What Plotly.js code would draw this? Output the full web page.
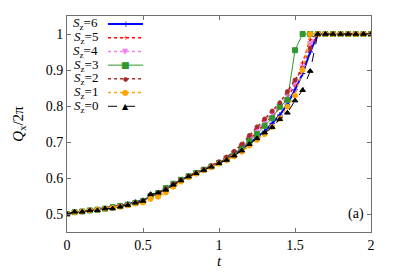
<!DOCTYPE html>
<html><head><meta charset="utf-8">
<script src="https://cdn.plot.ly/plotly-3.0.1.min.js"></script>
<style>html,body{margin:0;padding:0;background:#fff}#chart{width:395px;height:276px}</style>
</head><body><div id="chart"></div>
<script>
// time grid t = 0 ... 2 (step 0.05)
const t = [0,0.05,0.1,0.15,0.2,0.25,0.3,0.35,0.4,0.45,0.5,0.55,0.6,0.65,0.7,0.75,0.8,0.85,0.9,0.95,
           1,1.05,1.1,1.15,1.2,1.25,1.3,1.35,1.4,1.45,1.5,1.55,1.6,1.65,1.7,1.75,1.8,1.85,1.9,1.95,2];

const sz6 = [.5,.505,.507,.51,.512,.515,.518,.523,.528,.533,.538,.548,.558,.57,.583,.595,.605,.614,.623,.632,
             .642,.652,.664,.679,.696,.713,.73,.752,.775,.805,.845,.89,.95,1,1,1,1,1,1,1,1];
const sz5 = [.5,.505,.507,.51,.512,.515,.518,.522,.527,.532,.537,.547,.557,.569,.582,.594,.604,.613,.622,.632,
             .643,.655,.669,.687,.707,.728,.75,.772,.795,.822,.86,.92,.985,1,1,1,1,1,1,1,1];
const sz4 = [.5,.505,.507,.51,.512,.515,.518,.522,.527,.532,.537,.547,.557,.569,.582,.594,.605,.614,.623,.633,
             .644,.657,.672,.69,.712,.735,.757,.78,.802,.83,.865,.91,.975,1,1,1,1,1,1,1,1];
const sz3 = [.5,.505,.507,.51,.512,.515,.519,.522,.526,.531,.536,.55,.558,.572,.584,.595,.605,.614,.623,.632,
             .642,.654,.668,.685,.703,.722,.745,.766,.798,.817,.955,1,1,1,1,1,1,1,1,1,1];
const sz2 = [.5,.505,.507,.51,.512,.515,.518,.522,.526,.531,.536,.548,.557,.57,.583,.595,.605,.614,.624,.634,
             .645,.658,.674,.694,.718,.742,.764,.786,.809,.84,.872,.905,.96,1,1,1,1,1,1,1,1];
const sz1 = [.5,.505,.507,.51,.512,.515,.517,.52,.524,.529,.532,.542,.548,.56,.576,.59,.602,.612,.621,.63,
             .64,.649,.66,.673,.69,.706,.722,.742,.765,.798,.829,.9,1,1,1,1,1,1,1,1,1];
const sz0 = [.5,.506,.506,.51,.51,.515,.515,.52,.525,.531,.536,.555,.559,.567,.581,.593,.604,.613,.622,.631,
             .641,.65,.662,.676,.694,.71,.726,.741,.763,.781,.815,.844,.897,1,1,1,1,1,1,1,1];

const names = ['<i>S</i><sub>z</sub>=6','<i>S</i><sub>z</sub>=5','<i>S</i><sub>z</sub>=4','<i>S</i><sub>z</sub>=3',
               '<i>S</i><sub>z</sub>=2','<i>S</i><sub>z</sub>=1','<i>S</i><sub>z</sub>=0'];
const xTicks = [0,0.5,1,1.5,2];
const xTickText = ['0','0.5','1','1.5','2'];
const yTicks = [0.5,0.6,0.7,0.8,0.9,1];
const yTickText = ['0.5','0.6','0.7','0.8','0.9','1'];

const series = [sz6,sz5,sz4,sz3,sz2,sz1,sz0];
const styles = [
  {color:'#0000ff', dash:'solid', width:2, symbol:'cross-thin', size:4, glyph:'+', gsize:9},
  {color:'#ff0000', dash:'dot', width:1.5, symbol:'cross-thin', size:3, glyph:'+', gsize:7},
  {color:'#ee82ee', dash:'dot', width:1.5, symbol:'triangle-down', size:5, glyph:'▼', gsize:8},
  {color:'#2e9a2e', dash:'solid', width:1, symbol:'square', size:5, glyph:'■', gsize:9},
  {color:'#a52a2a', dash:'dot', width:1.5, symbol:'circle', size:4, glyph:'●', gsize:6},
  {color:'#ffa500', dash:'dot', width:1.5, symbol:'circle', size:5, glyph:'●', gsize:8},
  {color:'#000000', dash:'dash', width:1, symbol:'triangle-up', size:5, glyph:'▲', gsize:8}
];

const traces = series.map((y,i)=>({
  x: t, y: y, name: names[i], type:'scatter', mode:'lines+markers', showlegend:false,
  line:{color:styles[i].color, dash:styles[i].dash, width:styles[i].width},
  marker:{color:styles[i].color, symbol:styles[i].symbol, size:styles[i].size,
          line:{color:styles[i].color, width:1}}
}));

const serif = '"Liberation Serif", "Times New Roman", serif';

// custom gnuplot-style key: text on the left, line sample on the right
const keyTop = 0.963, keyStep = 0.0635;
const annotations = [];
const shapes = [];
names.forEach((n,i)=>{
  const yy = keyTop - i*keyStep;
  annotations.push({xref:'paper', yref:'paper', x:0.11, y:yy, xanchor:'right', yanchor:'middle',
    text:n, showarrow:false, font:{family:serif, size:13, color:'#000'}});
  shapes.push({type:'line', xref:'paper', yref:'paper', x0:0.135, x1:0.25, y0:yy, y1:yy,
    line:{color:styles[i].color, dash:styles[i].dash, width:styles[i].width}});
  annotations.push({xref:'paper', yref:'paper', x:0.1925, y:yy, xanchor:'center', yanchor:'middle',
    text:styles[i].glyph, showarrow:false, font:{family:'DejaVu Sans', size:styles[i].gsize, color:styles[i].color}});
});
annotations.push({xref:'paper', yref:'paper', x:0.985, y:0.085, xanchor:'right', yanchor:'middle',
  text:'(a)', showarrow:false, font:{family:serif, size:14, color:'#000'}});

const layout = {
  width:395, height:276,
  margin:{l:67, r:24, t:16, b:44},
  paper_bgcolor:'#fff', plot_bgcolor:'#fff',
  font:{family:serif, size:14, color:'#000'},
  showlegend:false,
  xaxis:{range:[0,2], tickvals:xTicks, ticktext:xTickText, ticks:'inside', ticklen:4,
         mirror:'ticks', showline:true, linecolor:'#707070', tickcolor:'#707070', showgrid:false, zeroline:false,
         tickfont:{family:serif, size:14},
         title:{text:'<i>t</i>', font:{family:serif, size:15}, standoff:2}},
  yaxis:{range:[0.45,1.05], tickvals:yTicks, ticktext:yTickText, ticks:'inside', ticklen:4,
         mirror:'ticks', showline:true, linecolor:'#707070', tickcolor:'#707070', showgrid:false, zeroline:false,
         tickfont:{family:serif, size:14},
         title:{text:'<i>Q</i><sub>x</sub>/2π', font:{family:serif, size:15}, standoff:18}},
  annotations: annotations,
  shapes: shapes
};

Plotly.newPlot('chart', traces, layout, {displayModeBar:false, staticPlot:true});
</script></body></html>
